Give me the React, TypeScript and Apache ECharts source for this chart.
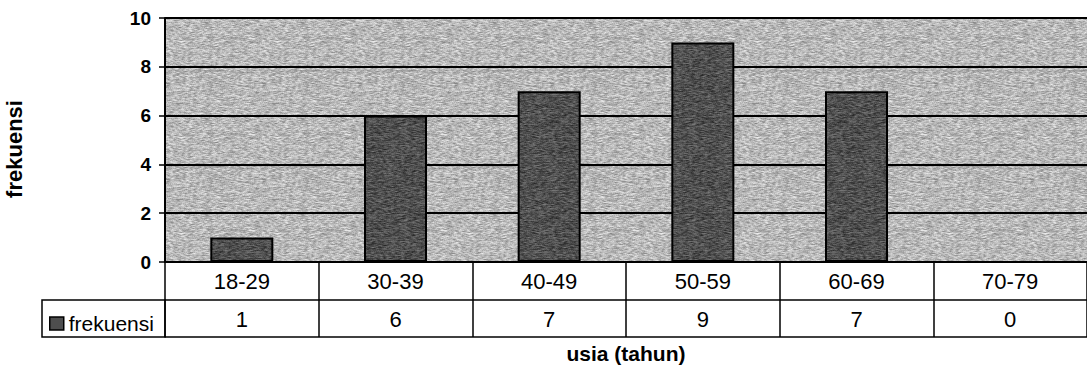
import React, { useEffect, useRef } from "react";
import * as echarts from "echarts";

// Age groups and how many respondents fall in each
const categories = ["18-29", "30-39", "40-49", "50-59", "60-69", "70-79"];
const frekuensi = [1, 6, 7, 9, 7, 0];
const seriesName = "frekuensi";
const yMin = 0;
const yMax = 10;
const yStep = 2;

const FONT = "'Liberation Sans', Arial, sans-serif";

// Small deterministic hash used to give the fills a printed, grainy look
function hash(x: number, y: number, seed: number): number {
  let h = (x * 374761393 + y * 668265263 + seed * 2246822519) | 0;
  h = Math.imul(h ^ (h >>> 13), 1274126177);
  h ^= h >>> 16;
  return ((h >>> 0) % 1000) / 1000;
}

function grainTile(base: number, amp: number, seed: number): HTMLCanvasElement {
  const size = 96;
  const c = document.createElement("canvas");
  c.width = size;
  c.height = size;
  const ctx = c.getContext("2d")!;
  const img = ctx.createImageData(size, size);
  for (let y = 0; y < size; y++) {
    for (let x = 0; x < size; x++) {
      // horizontal streaks: average a few neighbours along x
      const n =
        (hash(x, y, seed) +
          hash((x + 1) % size, y, seed) +
          hash((x + 2) % size, y, seed)) /
          3 -
        0.5;
      const v = Math.max(0, Math.min(255, Math.round(base + n * amp * 2)));
      const i = (y * size + x) * 4;
      img.data[i] = v;
      img.data[i + 1] = v;
      img.data[i + 2] = v;
      img.data[i + 3] = 255;
    }
  }
  ctx.putImageData(img, 0, 0);
  return c;
}

export default function App() {
  const ref = useRef<HTMLDivElement>(null);

  useEffect(() => {
    if (!ref.current) return;
    const chart = echarts.init(ref.current, undefined, { renderer: "svg" });

    const plotFill = { image: grainTile(184, 55, 7), repeat: "repeat" };
    const barFill = { image: grainTile(80, 45, 3), repeat: "repeat" };

    const tableText = { color: "#000", fontFamily: FONT, fontSize: 22 };
    const cellTick = {
      show: true,
      alignWithLabel: false,
      interval: 0,
      length: 38,
      lineStyle: { color: "#000", width: 1.5 },
    };

    chart.setOption({
      animation: false,
      backgroundColor: "#fff",
      grid: {
        left: 165,
        right: 0,
        top: 18,
        bottom: 107,
        show: true,
        backgroundColor: plotFill,
        borderWidth: 0,
        containLabel: false,
        outerBoundsMode: "none",
      },
      legend: {
        left: 44,
        top: 308,
        itemWidth: 14,
        itemHeight: 13,
        itemGap: 3,
        icon: "rect",
        data: [seriesName],
        textStyle: { ...tableText, fontSize: 21 },
        itemStyle: { color: "#4e4e4e", borderColor: "#000", borderWidth: 1.5 },
      },
      xAxis: [
        {
          type: "category",
          data: categories,
          position: "bottom",
          axisLine: { show: true, lineStyle: { color: "#000", width: 2 } },
          axisTick: cellTick,
          axisLabel: { ...tableText, margin: 8, interval: 0 },
        },
        {
          type: "category",
          data: frekuensi.map(String),
          position: "bottom",
          offset: 38,
          axisLine: { show: true, lineStyle: { color: "#000", width: 1.5 } },
          axisTick: { ...cellTick, length: 37 },
          axisLabel: { ...tableText, margin: 8, interval: 0 },
        },
        {
          type: "category",
          data: categories,
          position: "bottom",
          offset: 75,
          axisLine: { show: true, lineStyle: { color: "#000", width: 1.5 } },
          axisTick: { show: false },
          axisLabel: { show: false },
          name: "usia (tahun)",
          nameLocation: "middle",
          nameGap: 6,
          nameTextStyle: {
            color: "#000",
            fontFamily: FONT,
            fontSize: 21,
            fontWeight: "bold",
            verticalAlign: "top",
          },
        },
      ],
      yAxis: {
        type: "value",
        min: yMin,
        max: yMax,
        interval: yStep,
        axisLine: { show: true, lineStyle: { color: "#000", width: 2 } },
        axisTick: { show: true, length: 6, lineStyle: { color: "#000", width: 1.5 } },
        axisLabel: {
          color: "#000",
          fontFamily: FONT,
          fontSize: 19,
          fontWeight: "bold",
          margin: 14,
        },
        splitLine: { show: true, lineStyle: { color: "#000", width: 2 } },
        name: "frekuensi",
        nameLocation: "middle",
        nameGap: 140,
        nameTextStyle: {
          color: "#000",
          fontFamily: FONT,
          fontSize: 22,
          fontWeight: "bold",
          padding: [0, 18, 0, 0],
        },
      },
      series: [
        {
          name: seriesName,
          type: "bar",
          data: frekuensi,
          barWidth: "41%",
          itemStyle: { color: barFill, borderColor: "#000", borderWidth: 2 },
        },
      ],
      graphic: [
        // border of the legend cell in the data table
        {
          type: "rect",
          shape: { x: 42, y: 300, width: 123, height: 37 },
          style: { fill: "none", stroke: "#000", lineWidth: 1.5 },
          z: 10,
        },
      ],
    });

    return () => chart.dispose();
  }, []);

  return (
    <div
      ref={ref}
      style={{ position: "fixed", left: 0, top: 0, width: 1087, height: 369 }}
    />
  );
}
